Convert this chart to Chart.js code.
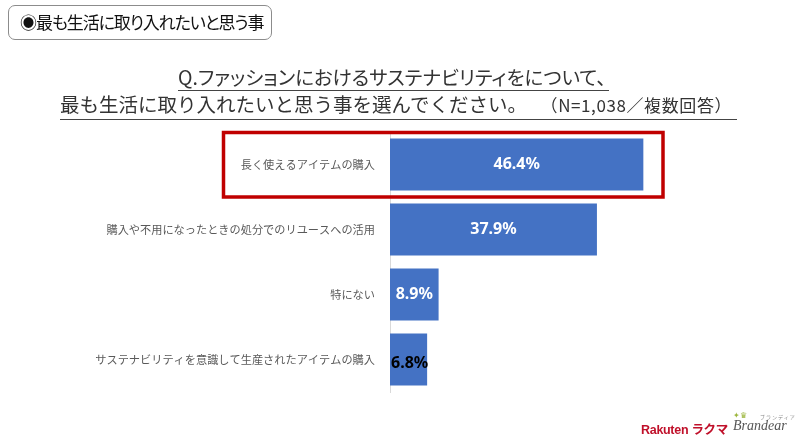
<!DOCTYPE html>
<html><head><meta charset="utf-8">
<script src="https://cdn.jsdelivr.net/npm/chart.js@4"></script>
<style>
html,body{margin:0;padding:0;background:#fff;}
#wrap{position:relative;width:800px;height:440px;overflow:hidden;font-family:"Noto Sans CJK JP","Noto Sans",sans-serif;}
#c{position:absolute;left:0;top:0;}
.tag{position:absolute;left:8px;top:5px;width:264px;height:35px;border:1px solid #8c8c8c;border-radius:7px;box-sizing:border-box;font-size:17px;line-height:32px;padding-left:11px;color:#111;white-space:nowrap;font-feature-settings:"palt";letter-spacing:-1.1px;}
.t1{position:absolute;left:178px;top:64px;font-size:19.5px;color:#333;line-height:26px;border-bottom:1.5px solid #444;padding-right:3px;white-space:nowrap;font-feature-settings:"palt";}
.t2{position:absolute;left:60px;top:91px;width:677px;height:28px;font-size:19.5px;color:#333;line-height:26px;border-bottom:1.5px solid #444;white-space:nowrap;letter-spacing:0px;}
.t2 .n{font-size:17px;letter-spacing:0.6px;margin-left:22px;}
.logo1{position:absolute;left:641px;top:419px;font-family:"Liberation Sans",sans-serif;font-weight:bold;font-size:12.5px;color:#c0102a;white-space:nowrap;letter-spacing:-0.3px;}
.logo2{position:absolute;left:733px;top:418px;font-family:"Liberation Serif",serif;font-style:italic;font-size:14px;color:#555;white-space:nowrap;}
.crown{position:absolute;left:733px;top:409px;font-size:8px;color:#9bb53a;}
.kana{position:absolute;left:760px;top:413px;font-size:5px;color:#888;letter-spacing:1px;}
</style></head>
<body>
<div id="wrap">
<canvas id="c" width="800" height="440"></canvas>
<div class="tag">◉最も生活に取り入れたいと思う事</div>
<div class="t1">Q.ファッションにおけるサステナビリティをについて、</div>
<div class="t2">最も生活に取り入れたいと思う事を選んでください。<span class="n">（N=1,038／複数回答）</span></div>
<div class="crown">✦♛</div>
<div class="kana">ブランディア</div>
<div class="logo1">Rakuten <span style="font-family:'Noto Sans CJK JP';">ラクマ</span></div>
<div class="logo2">Brandear</div>
</div>
<script>
const categories = [
  "長く使えるアイテムの購入",
  "購入や不用になったときの処分でのリユースへの活用",
  "特にない",
  "サステナビリティを意識して生産されたアイテムの購入"
];
const values = [46.4, 37.9, 8.9, 6.8];
const highlightIndex = 0;

const labelPlugin = {
  id: 'labels',
  afterDatasetsDraw(chart) {
    const ctx = chart.ctx;
    const meta = chart.getDatasetMeta(0);
    ctx.save();
    meta.data.forEach((bar, i) => {
      const txt = values[i].toFixed(1) + '%';
      ctx.font = 'bold 16px "Noto Sans","Liberation Sans",sans-serif';
      ctx.textBaseline = 'middle';
      const w = ctx.measureText(txt).width;
      const barW = bar.x - bar.base;
      if (barW < w + 2) {
        ctx.fillStyle = '#000';
        ctx.textAlign = 'left';
        ctx.fillText(txt, bar.base + 1, bar.y + 4);
      } else {
        ctx.fillStyle = '#fff';
        ctx.textAlign = 'center';
        ctx.fillText(txt, (bar.base + bar.x) / 2, bar.y);
      }
    });
    const b = meta.data[highlightIndex];
    const area = chart.chartArea;
    ctx.strokeStyle = '#c00000';
    ctx.lineWidth = 3.5;
    const top = b.y - b.height / 2 - 6;
    const bot = b.y + b.height / 2 + 6.5;
    ctx.strokeRect(223.5, top, area.right - 223.5, bot - top);
    ctx.restore();
  }
};

new Chart(document.getElementById('c'), {
  type: 'bar',
  data: {
    labels: categories,
    datasets: [{
      data: values,
      backgroundColor: '#4472c4',
      borderWidth: 0,
      barPercentage: 0.8,
      categoryPercentage: 1.0
    }]
  },
  options: {
    indexAxis: 'y',
    responsive: false,
    animation: false,
    layout: { padding: { left: 0, right: 137, top: 132, bottom: 48 } },
    plugins: { legend: { display: false }, tooltip: { enabled: false } },
    scales: {
      x: { min: 0, max: 50, display: false },
      y: {
        afterFit(s) { s.width = 390; },
        grid: { display: false, drawTicks: false },
        border: { display: true, color: '#d9d9d9', width: 1 },
        ticks: {
          padding: 15,
          color: '#595959',
          font: { family: '"Noto Sans CJK JP", sans-serif', size: 11.2 }
        }
      }
    }
  },
  plugins: [labelPlugin]
});
</script>
</body></html>
